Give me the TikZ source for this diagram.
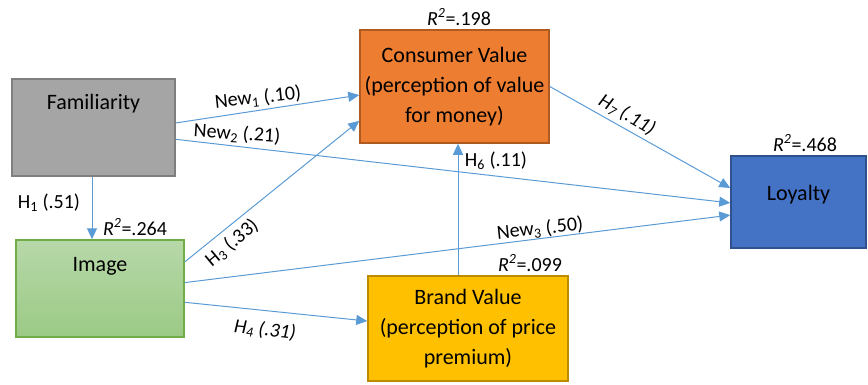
\documentclass[tikz,border=0pt]{standalone}
\usepackage{fontspec}
\setmainfont{Carlito}
\usetikzlibrary{arrows.meta,calc}
\definecolor{arr}{HTML}{5B9BD5}
\definecolor{famfill}{HTML}{A5A5A5}
\definecolor{famline}{HTML}{7F7F7F}
\definecolor{cvfill}{HTML}{ED7D31}
\definecolor{cvline}{HTML}{AE5A21}
\definecolor{bvfill}{HTML}{FFC000}
\definecolor{bvline}{HTML}{BC8C00}
\definecolor{loyfill}{HTML}{4472C4}
\definecolor{loyline}{HTML}{2F528F}
\definecolor{imgtop}{HTML}{B7D8A9}
\definecolor{imgbot}{HTML}{9BCA85}
\definecolor{imgline}{HTML}{70AD47}
\begin{document}
\begin{tikzpicture}[x=1pt,y=-1pt,
  box/.style={rectangle, line width=1.5pt, inner sep=0pt, align=center,
    font=\fontsize{22}{30}\selectfont},
  boxtext/.style={inner sep=0pt, font=\fontsize{22}{30}\selectfont},
  lab/.style={inner sep=0pt, font=\fontsize{20}{24}\selectfont},
  link/.style={draw=arr, line width=1pt, -{Triangle[length=11pt,width=10pt]}}]
\useasboundingbox (0,0) rectangle (868,384);

% boxes
\node (fam) [box, draw=famline, fill=famfill, minimum width=163pt, minimum height=97pt] at (93.5,127.5) {};
\node (famt) [boxtext] at (93.5,104) {Familiarity};
\node (img) [box, draw=imgline, top color=imgtop, bottom color=imgbot, minimum width=168pt, minimum height=97pt] at (100,288.5) {};
\node (imgt) [boxtext] at (100,266) {Image};
\node (cv) [box, draw=cvline, fill=cvfill, minimum width=189pt, minimum height=113pt] at (454.5,86.5) {Consumer Value\\(perception of value\\for money)};
\node (bv) [box, draw=bvline, fill=bvfill, minimum width=200pt, minimum height=105pt] at (468,328.5) {Brand Value\\(perception of price\\premium)};
\node (loy) [box, draw=loyline, fill=loyfill, minimum width=135pt, minimum height=92pt] at (798.5,202) {};
\node (loyt) [boxtext] at (798.5,195) {Loyalty};

% R squared labels
\node (r1) [lab] at (459,17) {\textit{R}\textsuperscript{\textit{2}}=.198};
\node (r2) [lab] at (805,143) {\textit{R}\textsuperscript{\textit{2}}=.468};
\node (r3) [lab] at (135,227) {\textit{R}\textsuperscript{\textit{2}}=.264};
\node (r4) [lab] at (530,263) {\textit{R}\textsuperscript{\textit{2}}=.099};

% connectors
\coordinate (famB) at ($(fam.south)+(-1.5,0)$);
\draw[link] (famB) -- (famB |- img.north);
\draw[link] ($(fam.north east)!0.454!(fam.south east)$) -- ($(cv.north west)!0.575!(cv.south west)$);
\draw[link] ($(fam.north east)!0.62!(fam.south east)$) -- ($(loy.north west)!0.51!(loy.south west)$);
\draw[link] ($(img.north east)!0.23!(img.south east)$) -- ($(cv.north west)!0.80!(cv.south west)$);
\draw[link] ($(img.north east)!0.44!(img.south east)$) -- ($(loy.north west)!0.64!(loy.south west)$);
\draw[link] ($(img.north east)!0.64!(img.south east)$) -- ($(bv.north west)!0.43!(bv.south west)$);
\coordinate (bvT) at ($(bv.north)+(-10,0)$);
\draw[link] (bvT) -- (bvT |- cv.south);
\draw[link] (cv.east) -- ($(loy.north west)!0.35!(loy.south west)$);

% path labels
\node (l1) [lab, rotate=6] at (258,98) {New\textsubscript{1} (.10)};
\node (l2) [lab, rotate=-4] at (237,134) {New\textsubscript{2} (.21)};
\node (l3) [lab] at (49,203) {H\textsubscript{1} (.51)};
\node (l4) [lab, rotate=40] at (232,243) {H\textsubscript{3} (.33)};
\node (l5) [lab, rotate=6] at (540,229) {New\textsubscript{3} (.50)};
\node (l6) [lab, rotate=-6] at (265,330) {\textit{H\textsubscript{4} (.31)}};
\node (l7) [lab] at (496,161) {H\textsubscript{6} (.11)};
\node (l8) [lab, rotate=-30] at (627,115) {\textit{H\textsubscript{7} (.11)}};
\end{tikzpicture}
\end{document}
